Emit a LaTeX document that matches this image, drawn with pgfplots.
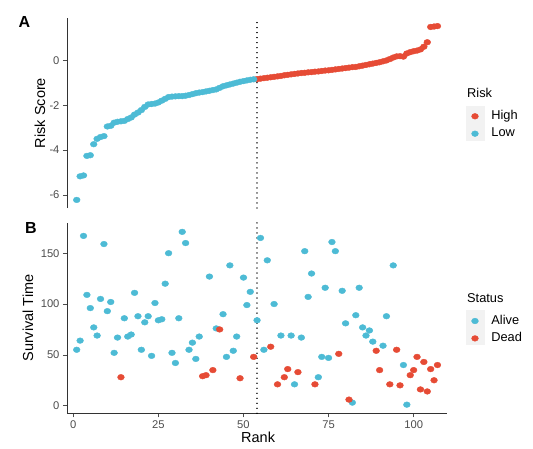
\documentclass[border=0pt]{standalone}
\usepackage{pgfplots}
\pgfplotsset{compat=1.18}
\usepackage{fontspec}
\setmainfont{Liberation Sans}
\definecolor{npgred}{HTML}{E64B35}
\definecolor{npgblue}{HTML}{4DBBD5}
\definecolor{tickgray}{HTML}{4D4D4D}
\definecolor{keygray}{HTML}{F2F2F2}

\pgfplotsset{
  myaxis/.style={
    scale only axis, width=380pt, height=190pt,
    xmin=-1.85, xmax=109.8,
    axis line style={-, line width=0.9pt, color=black!80},
    tick align=outside, major tick length=4pt,
    tick style={line width=0.7pt, color=black!70},
    ticklabel style={font=\fontsize{11.2}{12}\selectfont, text=tickgray},
    /pgf/number format/assume math mode=true,
    label style={font=\fontsize{14.5}{16}\selectfont},
    legend style={draw=none, fill=none, inner sep=0pt, outer sep=0pt, row sep=5.9pt,
      font=\fontsize{12.8}{14}\selectfont,
      nodes={inner sep=0pt, text height=9pt, text depth=2.5pt, anchor=west}},
    legend cell align=left,
  },
  dots/.style={only marks, mark=*, mark size=3.1pt, mark options={xscale=1.1, yscale=0.92, draw=none},
    legend image code/.code={\path[draw=none, fill=none] (0pt,0pt) -- (24.4pt,0pt);\draw[##1] plot coordinates {(8pt,0pt)};}},
  vline/.style={black, line width=1.3pt, line cap=round, dash pattern=on 0.01pt off 5pt, forget plot},
}

\begin{document}
\begin{tikzpicture}
\useasboundingbox (0,0) rectangle (533pt,448pt);
\fill[keygray] (466pt,307pt) rectangle (485pt,342pt);
\fill[keygray] (466pt,103pt) rectangle (485pt,138pt);

\node[font=\bfseries\fontsize{16}{18}\selectfont, inner sep=0pt] at (24.5pt,426pt) {A};
\node[font=\bfseries\fontsize{16}{18}\selectfont, inner sep=0pt] at (31pt,220pt) {B};
\node[anchor=base west, inner sep=0pt, font=\fontsize{12.8}{14}\selectfont] at (467pt,350.5pt) {Risk};
\node[anchor=base west, inner sep=0pt, font=\fontsize{12.8}{14}\selectfont] at (467pt,145.5pt) {Status};

% Panel A
\begin{axis}[myaxis, at={(67pt,240pt)}, anchor=south west,
  ymin=-6.58, ymax=1.88, axis x line=none, axis y line*=left,
  ytick={-6,-4,-2,0},
  ylabel={Risk Score}, ylabel style={at={(axis description cs:-0.071,0.5)}, anchor=center, rotate=0},
  legend style={at={(axis description cs:1.0526,0.5129)}, anchor=north west}]
\addplot[dots, color=npgred] table {
x y
54 -0.84
55 -0.82
56 -0.80
57 -0.78
58 -0.76
59 -0.74
60 -0.72
61 -0.70
62 -0.67
63 -0.65
64 -0.63
65 -0.61
66 -0.59
67 -0.57
68 -0.56
69 -0.54
70 -0.53
71 -0.51
72 -0.50
73 -0.48
74 -0.46
75 -0.45
76 -0.43
77 -0.41
78 -0.39
79 -0.37
80 -0.35
81 -0.33
82 -0.31
83 -0.30
84 -0.27
85 -0.24
86 -0.21
87 -0.18
88 -0.15
89 -0.12
90 -0.09
91 -0.05
92 -0.01
93 0.05
94 0.12
95 0.17
96 0.18
97 0.16
98 0.30
99 0.36
100 0.40
101 0.43
102 0.48
103 0.60
104 0.80
105 1.48
106 1.50
107 1.52
};
\addlegendentry{High}
\addplot[dots, color=npgblue] table {
x y
1 -6.22
2 -5.17
3 -5.13
4 -4.26
5 -4.23
6 -3.74
7 -3.50
8 -3.42
9 -3.38
10 -2.95
11 -2.92
12 -2.78
13 -2.74
14 -2.72
15 -2.70
16 -2.62
17 -2.55
18 -2.42
19 -2.33
20 -2.22
21 -2.08
22 -1.97
23 -1.95
24 -1.93
25 -1.88
26 -1.80
27 -1.72
28 -1.64
29 -1.62
30 -1.61
31 -1.60
32 -1.60
33 -1.58
34 -1.55
35 -1.51
36 -1.47
37 -1.44
38 -1.42
39 -1.39
40 -1.36
41 -1.33
42 -1.30
43 -1.23
44 -1.16
45 -1.12
46 -1.08
47 -1.04
48 -1.00
49 -0.96
50 -0.93
51 -0.90
52 -0.87
53 -0.85
};
\addlegendentry{Low}
\addplot[vline] coordinates {(54,-6.58) (54,1.88)};
\end{axis}

% Panel B
\begin{axis}[myaxis, at={(67pt,34.7pt)}, anchor=south west, height=190.6pt,
  ymin=-7.5, ymax=180, axis x line*=bottom, axis y line*=left,
  xtick={0,25,50,75,100}, ytick={0,50,100,150},
  xlabel={Rank}, xlabel style={at={(axis description cs:0.503,-0.124)}, anchor=center},
  ylabel={Survival Time}, ylabel style={at={(axis description cs:-0.103,0.5)}, anchor=center, rotate=0},
  legend style={at={(axis description cs:1.0526,0.5144)}, anchor=north west}]
\addplot[dots, color=npgblue] table {
x y
1 55
2 64
3 167
4 109
5 96
6 77
7 69
8 105
9 159
10 93
11 102
12 52
13 67
15 86
16 68
17 70
18 111
19 88
20 55
21 82
22 88
23 49
24 101
25 84
26 85
27 120
28 150
29 52
30 42
31 86
32 171
33 160
34 55
35 62
36 46
37 68
40 127
42 76
44 90
45 48
46 138
47 54
48 68
50 126
51 99
52 112
54 84
55 165
56 55
57 143
59 100
61 69
64 69
65 21
67 67
68 152
69 107
70 130
72 28
73 48
74 116
75 47
76 161
77 152
79 113
80 81
82 3
83 89
84 116
85 77
86 69
87 74
88 63
91 59
92 88
94 138
97 40
98 1
};
\addlegendentry{Alive}
\addplot[dots, color=npgred] table {
x y
14 28
38 29
39 30
41 35
43 75
49 27
53 48
58 58
60 21
62 28
63 36
66 33
71 21
78 51
81 6
89 54
90 35
93 21
95 55
96 20
99 30
100 35
101 48
102 16
103 43
104 14
105 36
106 25
107 40
};
\addlegendentry{Dead}
\addplot[vline] coordinates {(54,-7.5) (54,180)};
\end{axis}
\end{tikzpicture}
\end{document}
